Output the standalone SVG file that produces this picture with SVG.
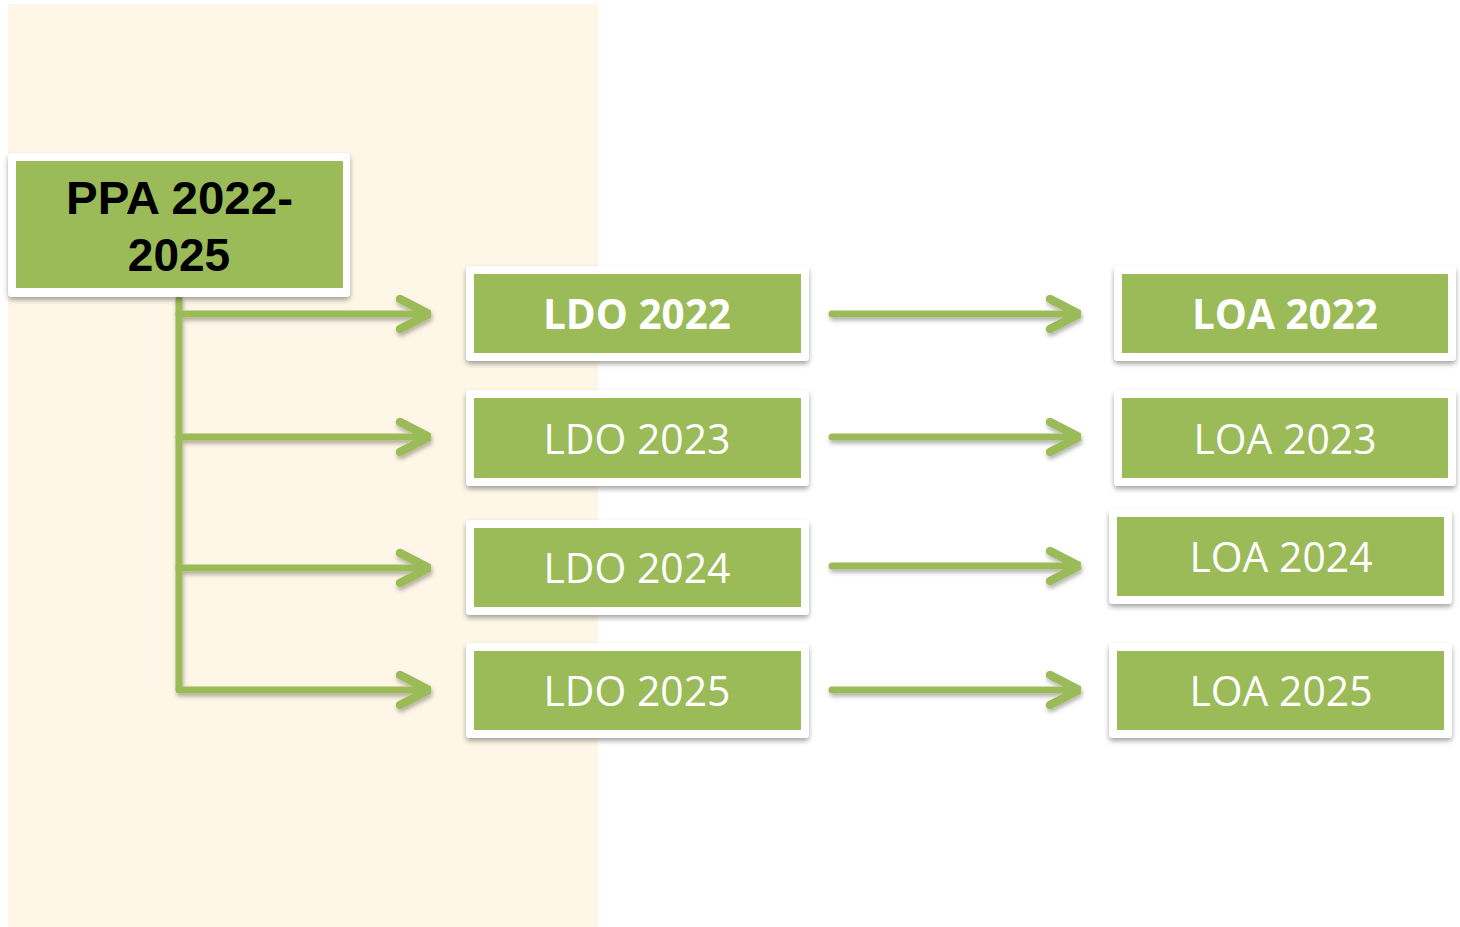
<svg xmlns="http://www.w3.org/2000/svg" width="1460" height="927" viewBox="0 0 1460 927">
<defs>
<filter id="sh" x="-10%" y="-20%" width="120%" height="150%">
<feDropShadow dx="0" dy="3" stdDeviation="2.5" flood-color="#000" flood-opacity="0.35"/>
</filter>
<filter id="ash" x="-10%" y="-50%" width="120%" height="200%">
<feDropShadow dx="1" dy="3" stdDeviation="2" flood-color="#000" flood-opacity="0.3"/>
</filter>
</defs>
<style>
.outer{fill:#fff;filter:url(#sh)}
.inner{fill:#9BBB59}
.lbl{font-family:"Open Sans","Noto Sans",sans-serif;fill:#fff;font-size:42px;text-anchor:middle}
.b{font-weight:bold}
.ppa{font-family:"Liberation Sans",Arial,sans-serif;font-weight:bold;font-size:46px;fill:#000;text-anchor:middle}
.ln{stroke:#9BBB59;stroke-width:7;fill:none;stroke-linecap:round;stroke-linejoin:round}
.hd{stroke:#9BBB59;stroke-width:8.5;fill:none;stroke-linecap:round;stroke-linejoin:miter;stroke-miterlimit:2}
</style>
<rect x="8" y="4" width="590" height="923" fill="#FEF6E7"/>

<g id="connectors" filter="url(#ash)">
<path class="ln" d="M179 297 V690" style="stroke-linecap:butt"/>
<path class="ln" d="M179 314 H426"/><path class="hd" d="M400 299 L429 314 L400 329"/>
<path class="ln" d="M179 437 H426"/><path class="hd" d="M400 422 L429 437 L400 452"/>
<path class="ln" d="M179 568 H426"/><path class="hd" d="M400 553 L429 568 L400 583"/>
<path class="ln" d="M179 690 H426"/><path class="hd" d="M400 675 L429 690 L400 705"/>
<path class="ln" d="M832 314 H1076"/><path class="hd" d="M1050 299 L1079 314 L1050 329"/>
<path class="ln" d="M832 437 H1076"/><path class="hd" d="M1050 422 L1079 437 L1050 452"/>
<path class="ln" d="M832 566 H1076"/><path class="hd" d="M1050 551 L1079 566 L1050 581"/>
<path class="ln" d="M832 690 H1076"/><path class="hd" d="M1050 675 L1079 690 L1050 705"/>
</g>

<g id="ppa">
<rect class="outer" x="8" y="153" width="342" height="144" rx="4"/>
<rect class="inner" x="16" y="161" width="327" height="127"/>
<text class="ppa" x="179.5" y="214" textLength="227" lengthAdjust="spacingAndGlyphs">PPA 2022-</text>
<text class="ppa" x="179" y="271">2025</text>
</g>

<g id="ldo2022">
<rect class="outer" x="466" y="266" width="343" height="95" rx="4"/>
<rect class="inner" x="474" y="274" width="327" height="79"/>
<text class="lbl b" x="637" y="329" textLength="188" lengthAdjust="spacingAndGlyphs">LDO 2022</text>
</g>
<g id="ldo2023">
<rect class="outer" x="466" y="390" width="343" height="96" rx="4"/>
<rect class="inner" x="474" y="398" width="327" height="80"/>
<text class="lbl" x="637" y="454" textLength="187" lengthAdjust="spacingAndGlyphs">LDO 2023</text>
</g>
<g id="ldo2024">
<rect class="outer" x="466" y="520" width="343" height="95" rx="4"/>
<rect class="inner" x="474" y="528" width="327" height="79"/>
<text class="lbl" x="637" y="583" textLength="187" lengthAdjust="spacingAndGlyphs">LDO 2024</text>
</g>
<g id="ldo2025">
<rect class="outer" x="466" y="643" width="343" height="95" rx="4"/>
<rect class="inner" x="474" y="651" width="327" height="79"/>
<text class="lbl" x="637" y="706" textLength="187" lengthAdjust="spacingAndGlyphs">LDO 2025</text>
</g>

<g id="loa2022">
<rect class="outer" x="1114" y="266" width="342" height="95" rx="4"/>
<rect class="inner" x="1122" y="274" width="326" height="79"/>
<text class="lbl b" x="1285" y="329" textLength="186" lengthAdjust="spacingAndGlyphs">LOA 2022</text>
</g>
<g id="loa2023">
<rect class="outer" x="1114" y="390" width="342" height="96" rx="4"/>
<rect class="inner" x="1122" y="398" width="326" height="80"/>
<text class="lbl" x="1285" y="454" textLength="183" lengthAdjust="spacingAndGlyphs">LOA 2023</text>
</g>
<g id="loa2024">
<rect class="outer" x="1109" y="509" width="343" height="95" rx="4"/>
<rect class="inner" x="1117" y="517" width="327" height="79"/>
<text class="lbl" x="1281" y="572" textLength="183" lengthAdjust="spacingAndGlyphs">LOA 2024</text>
</g>
<g id="loa2025">
<rect class="outer" x="1109" y="643" width="343" height="95" rx="4"/>
<rect class="inner" x="1117" y="651" width="327" height="79"/>
<text class="lbl" x="1281" y="706" textLength="183" lengthAdjust="spacingAndGlyphs">LOA 2025</text>
</g>
</svg>
